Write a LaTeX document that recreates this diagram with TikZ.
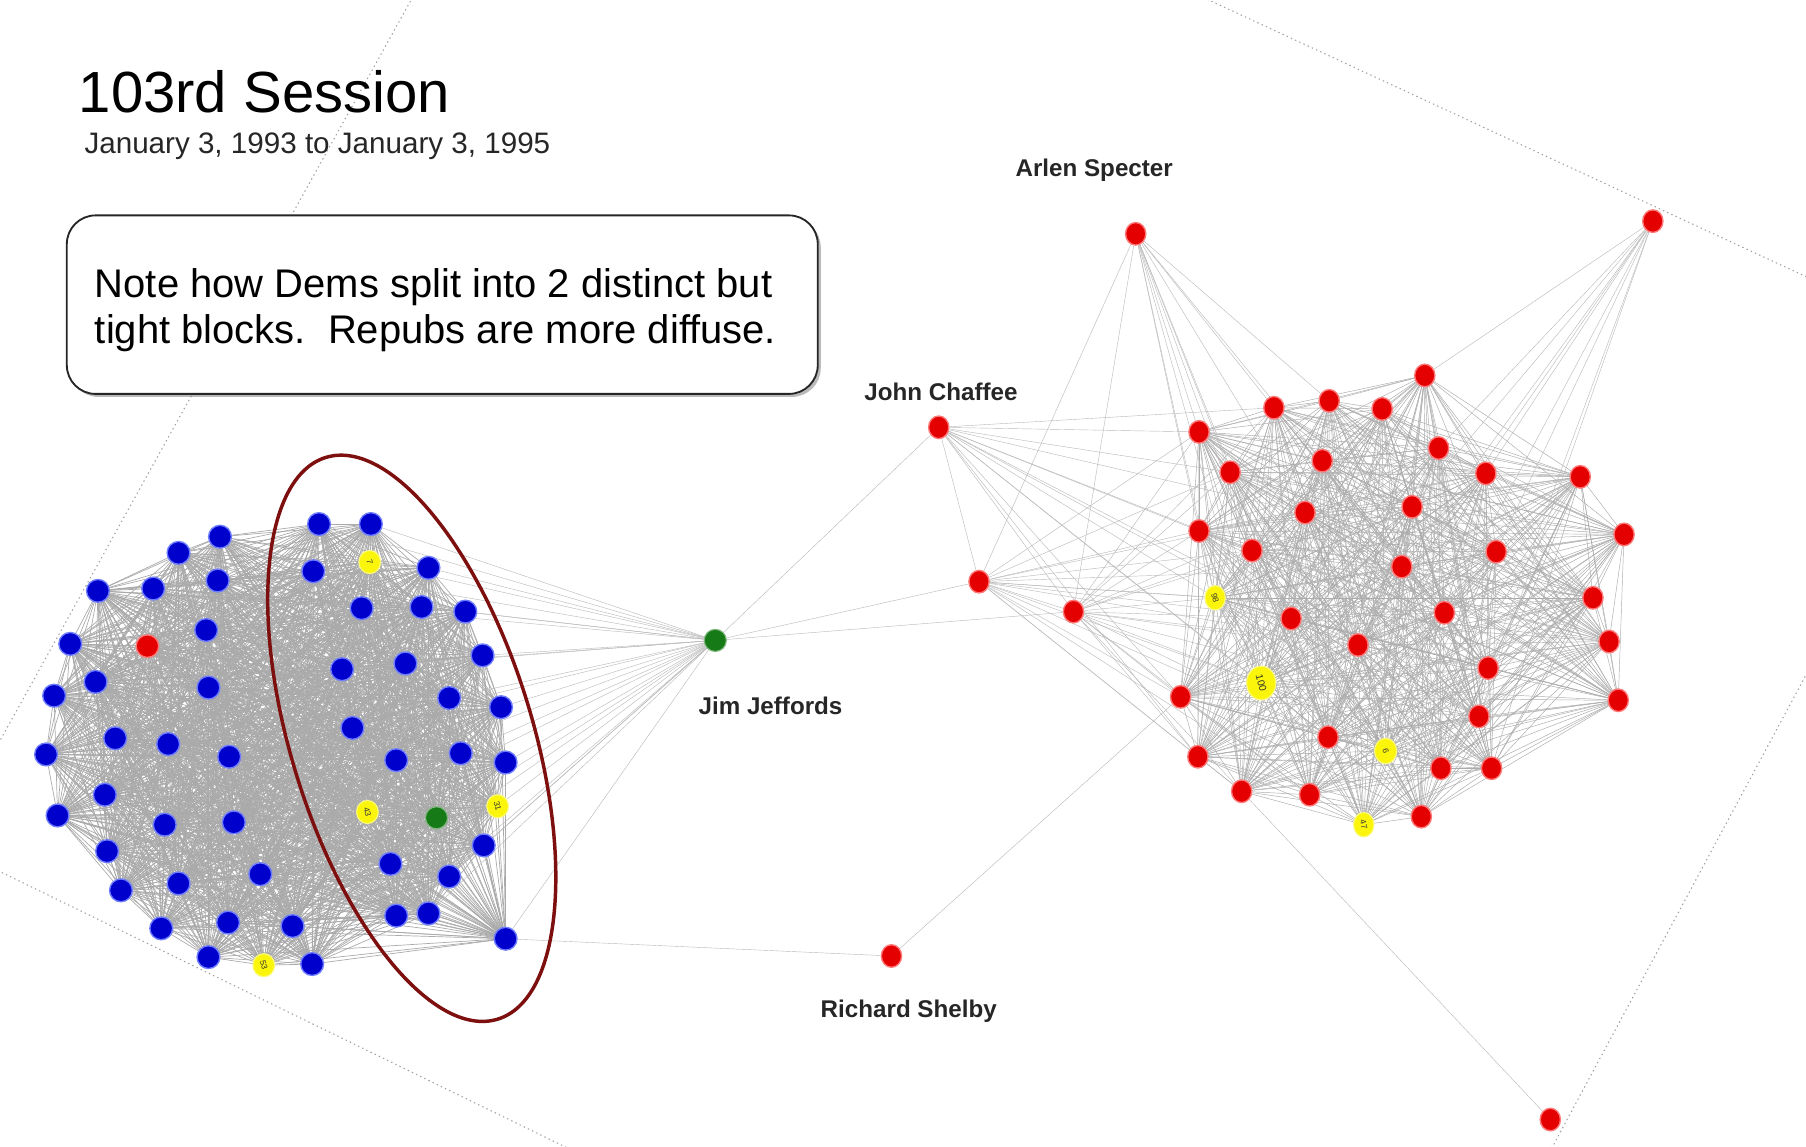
\documentclass[tikz,border=0pt]{standalone}
\usepackage{fontspec}
\usepackage{graphicx}
\setmainfont{Liberation Sans}
\usetikzlibrary{shapes.geometric,shadows}

\definecolor{demblue}{RGB}{0,0,205}
\definecolor{demhalo}{RGB}{110,125,255}
\definecolor{repred}{RGB}{228,0,0}
\definecolor{rephalo}{RGB}{255,120,120}
\definecolor{indgreen}{RGB}{22,122,22}
\definecolor{swingyel}{RGB}{250,245,10}
\definecolor{ringred}{RGB}{125,15,15}
\definecolor{meshgray}{RGB}{170,170,170}
\definecolor{repmeshgray}{RGB}{172,172,172}

\pgfdeclarelayer{bg}
\pgfdeclarelayer{edges}
\pgfsetlayers{bg,edges,main}

\newcommand\swingtext[1]{\rotatebox{-75}{#1}}

\tikzset{
  dem/.style={circle,fill=demblue,draw=demhalo,line width=0.6pt,minimum size=9.9pt,inner sep=0pt},
  rep/.style={ellipse,fill=repred,draw=rephalo,line width=0.6pt,minimum width=8.8pt,minimum height=9.8pt,inner sep=0pt},
  ind/.style={circle,fill=indgreen,draw=indgreen!55!white,line width=0.5pt,minimum size=9.6pt,inner sep=0pt},
  swing/.style={ellipse,fill=swingyel,draw=swingyel!55!white,line width=0.5pt,minimum width=9.4pt,minimum height=10pt,inner sep=0pt,
    font=\fontsize{3.6pt}{4pt}\selectfont,text=black!80},
  demmesh/.style={draw=meshgray,line width=0.3pt},
  repmesh/.style={draw=repmeshgray,line width=0.2pt},
  fan/.style={draw=gray!55,line width=0.18pt},
  frame/.style={draw=gray!75,line width=0.45pt,dash pattern=on 0.6pt off 1.4pt},
  name label/.style={font=\fontsize{10.5pt}{12pt}\selectfont\bfseries,text=black!85},
}

\begin{document}
\begin{tikzpicture}[x=0.5pt,y=-0.5pt]
\useasboundingbox (0,0) rectangle (1568,995);
\begin{pgfonlayer}{bg}
  \fill[white] (0,0) rectangle (1568,995);
\end{pgfonlayer}

% rotated dotted layout frame
\begin{scope}
  \clip (0,0) rectangle (1568,995);
  \coordinate (fa) at (368,-20);   \coordinate (fb) at (-10,661);
  \coordinate (fc) at (-20,747);   \coordinate (fd) at (520,1010);
  \coordinate (fe) at (1030,-9);   \coordinate (ff) at (1600,255);
  \coordinate (fg) at (1590,545);  \coordinate (fh) at (1338,1014);
  \draw[frame] (fa) -- (fb);
  \draw[frame] (fc) -- (fd);
  \draw[frame] (fe) -- (ff);
  \draw[frame] (fg) -- (fh);
\end{scope}

% titles
\node[anchor=base west,inner sep=0pt,font=\fontsize{25.2pt}{30pt}\selectfont] (title) at (68,98) {103rd Session};
\node[anchor=base west,inner sep=0pt,font=\fontsize{12.85pt}{15pt}\selectfont,text=black!85] (subtitle) at (73,133) {January 3, 1993 to January 3, 1995};

% comment box
\node[draw=black!85,line width=0.8pt,rounded corners=12.5pt,fill=white,
      drop shadow={shadow xshift=1.3pt,shadow yshift=-1.3pt,opacity=0.45,fill=black!60},
      minimum width=326pt,minimum height=77.5pt,inner sep=0pt] (note) at (384,264.5) {};
\node[anchor=base west,inner sep=0pt,align=left,
      font=\fontsize{17.35pt}{20pt}\selectfont] (notetext) at (82,298)
  {Note how Dems split into 2 distinct but\\tight blocks.~~Repubs are more diffuse.};

% Democratic bloc
\foreach \n/\x/\y in {1/277/455, 2/322/455, 3/191/466, 4/155/480, 5/189/504, 6/272/496,
  8/372/493, 9/85/513, 10/133/511, 11/314/528, 12/366/527, 13/404/531, 14/179/547,
  15/61/559, 17/83/592, 18/181/597, 19/47/604, 20/297/581, 21/352/576, 22/419/569,
  23/390/606, 24/435/614, 25/100/641, 26/146/646, 27/199/657, 28/40/655, 29/306/632,
  30/344/660, 31/400/654, 32/439/662, 33/91/690, 34/50/708, 35/143/716, 36/203/714,
  40/420/734, 41/93/739, 42/339/750, 43/390/761, 44/155/767, 45/226/759, 46/105/773,
  47/140/806, 48/198/801, 49/254/804, 50/344/795, 51/372/793, 52/439/815, 53/181/831,
  55/271/837}
  \node[dem] (b\n) at (\x,\y) {};
\node[swing] (b7)  at (321,488) {\swingtext{7}};
\node[rep,minimum width=9.8pt,minimum height=9.8pt] (b16) at (128,561) {};
\node[swing] (b37) at (319,705) {\swingtext{43}};
\node[ind]   (b38) at (379,710) {};
\node[swing] (b39) at (432,700) {\swingtext{31}};
\node[swing] (b54) at (229,838) {\swingtext{53}};

% Republican bloc
\foreach \n/\x/\y in {1/1237/326, 2/1106/354, 3/1154/348, 4/1200/355, 5/1041/375,
  6/1068/410, 7/1148/400, 8/1249/389, 9/1290/411, 10/1372/414, 11/1133/445,
  12/1226/440, 13/1041/461, 14/1087/478, 15/1217/492, 16/1299/479, 17/1410/464,
  19/1121/537, 20/1254/532, 21/1383/519, 22/1179/560, 23/1397/557, 25/1025/605,
  26/1292/580, 27/1405/608, 28/1284/622, 29/1153/640, 31/1040/657, 32/1251/667,
  33/1295/667, 34/1078/687, 35/1137/690, 36/1234/709}
  \node[rep] (r\n) at (\x,\y) {};
\node[swing,minimum width=8.8pt,minimum height=10.6pt] (r18) at (1055,519) {\swingtext{98}};
\node[swing,minimum width=12.6pt,minimum height=14.6pt,font=\fontsize{4.4pt}{5pt}\selectfont] (r24) at (1095,593) {\swingtext{100}};
\node[swing,minimum width=9.6pt,minimum height=11pt] (r30) at (1203,652) {\swingtext{6}};
\node[swing,minimum width=8.8pt,minimum height=10.6pt] (r37) at (1184,716) {\swingtext{47}};

% outlying senators
\node[rep] (arlen)   at (986,203) {};
\node[rep] (topr)    at (1435,192) {};
\node[rep] (chaffee) at (815,371) {};
\node[rep] (leftA)   at (850,505) {};
\node[rep] (leftB)   at (932,531) {};
\node[rep] (shelby)  at (774,830) {};
\node[rep] (lowr)    at (1346,972) {};
\node[ind] (jeffords) at (621,556) {};

% name labels
\node[name label] (lblarlen)    at (950,148) {Arlen Specter};
\node[name label] (lblchaffee)  at (817,340) {John Chaffee};
\node[name label] (lbljeffords) at (669,613) {Jim Jeffords};
\node[name label] (lblshelby)   at (789,878) {Richard Shelby};

% highlighted Democratic sub-bloc
\coordinate (ringc) at (357.5,641);
\draw[ringred,line width=1.5pt,rotate around={17:(ringc)}] (ringc) ellipse [x radius=105,y radius=255];

% co-voting edges
\begin{pgfonlayer}{edges}
  \foreach \i in {1,...,54}{
    \pgfmathtruncatemacro\lo{\i+1}
    \foreach \j in {\lo,...,55}{\draw[demmesh] (b\i.center) -- (b\j.center);}
  }
  \foreach \i in {1,...,36}{
    \pgfmathtruncatemacro\lo{\i+1}
    \foreach \j in {\lo,...,37}{\draw[repmesh] (r\i.center) -- (r\j.center);}
  }
  \foreach \t in {1,2,6,7,8,11,12,13,20,21,22,23,24,29,30,31,32,37,38,39,40,42,43,50,51,52}
    \draw[fan] (jeffords) -- (b\t);
  \draw[fan] (jeffords) -- (chaffee);
  \draw[fan] (jeffords) -- (leftA);
  \draw[fan] (jeffords) -- (leftB);
  \draw[fan] (b52) -- (shelby);
  \draw[fan] (shelby) -- (r25);
  \draw[fan] (r34) -- (lowr);
  \foreach \t in {2,3,5,6,7,11,13,14,18,19,24}
    \draw[fan] (arlen) -- (r\t);
  \draw[fan] (arlen) -- (leftA);
  \draw[fan] (arlen) -- (leftB);
  \foreach \t in {1,8,9,12,15,16,20,22,26,28}
    \draw[fan] (topr) -- (r\t);
  \foreach \t in {2,5,6,11,13,14,18,19,22,24,25,29,31}
    \draw[fan] (chaffee) -- (r\t);
  \draw[fan] (chaffee) -- (leftA);
  \draw[fan] (chaffee) -- (leftB);
  \foreach \t in {5,6,11,13,14,15,18,19,20,22,24,25,29,31,34,35}
    \draw[fan] (leftA) -- (r\t);
  \draw[fan] (leftA) -- (leftB);
  \foreach \t in {2,5,6,11,12,13,14,18,19,22,24,25,26,28,29,31,34,35}
    \draw[fan] (leftB) -- (r\t);
\end{pgfonlayer}
\end{tikzpicture}
\end{document}
